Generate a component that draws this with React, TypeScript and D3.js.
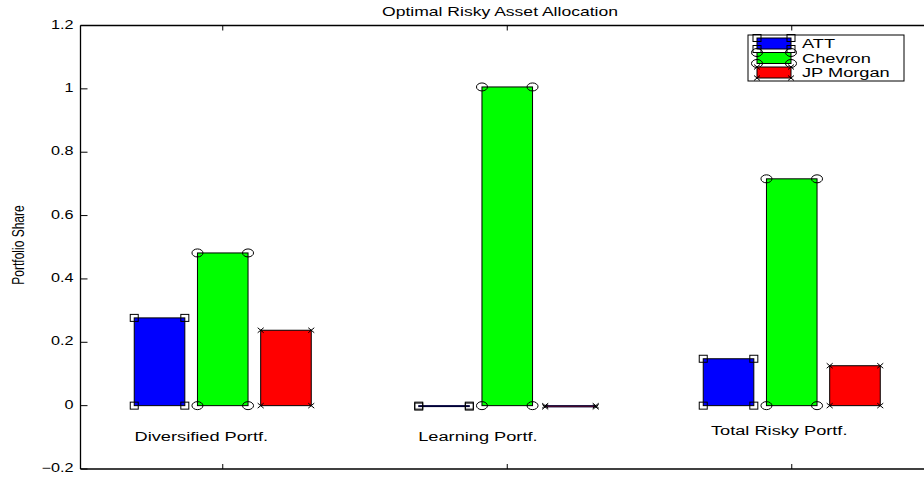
import * as d3 from 'd3';

// Portfolio groups and the three assets
const groups = ['Diversified Portf.', 'Learning Portf.', 'Total Risky Portf.'];
const assets = ['ATT', 'Chevron', 'JP Morgan'];

// Optimal weights per group
const attShare = [0.277, -0.003, 0.148];
const chevronShare = [0.482, 1.006, 0.716];
const jpmShare = [0.238, -0.004, 0.126];

// Group label anchors (data coords)
const labelX = [0.69, 1.687, 2.716];
const labelY = [-0.1, -0.1, -0.08];

const yTicks = [-0.2, 0, 0.2, 0.4, 0.6, 0.8, 1, 1.2];
const xTicks = [1, 2, 3];

const colors = ['#0000ff', '#00ff00', '#ff0000'];
const markers = ['square', 'circle', 'cross'];

const W = 924;
const H = 480;
const SX = 1.35; // the original figure is stretched sideways
const font = '"Liberation Sans", Arial, Helvetica, sans-serif';

function Marker({ kind, x, y }: { kind: string; x: number; y: number }) {
  if (kind === 'square') {
    return <rect x={x - 4} y={y - 3.5} width={8} height={7} fill="none" stroke="#000" strokeWidth={1} />;
  }
  if (kind === 'circle') {
    return <ellipse cx={x} cy={y} rx={5.5} ry={4} fill="none" stroke="#000" strokeWidth={1} />;
  }
  return (
    <path
      d={`M${x - 3},${y - 2.5}L${x + 3},${y + 2.5}M${x - 3},${y + 2.5}L${x + 3},${y - 2.5}`}
      stroke="#000"
      strokeWidth={1}
    />
  );
}

function Txt(props: { x: number; y: number; size: number; anchor?: string; baseline?: string; rotate?: number; children: string }) {
  const { x, y, size, anchor = 'start', baseline = 'auto', rotate = 0, children } = props;
  return (
    <text
      transform={`translate(${x},${y}) scale(${SX},1)${rotate ? ` rotate(${rotate})` : ''}`}
      fontFamily={font}
      fontSize={size}
      textAnchor={anchor}
      dominantBaseline={baseline}
      fill="#000"
    >
      {children}
    </text>
  );
}

export default function App() {
  const x = d3.scaleLinear().domain([0.5, 3.5]).range([80.5, 934]);
  const y = d3.scaleLinear().domain([-0.2, 1.2]).range([469, 25.5]);
  const fmt = d3.format('~g');

  const series = [attShare, chevronShare, jpmShare];
  const groupWidth = Math.min(0.8, 3 / (3 + 1.5));
  const barW = (groupWidth / 3) * 0.8;
  const offsets = [-groupWidth / 3, 0, groupWidth / 3];

  const left = x(0.5);
  const top = y(1.2);
  const bottom = y(-0.2);
  const right = x(3.5);

  // legend box
  const lg = { x0: 748, y0: 35, x1: 904, y1: 81 };
  const rows = [43.5, 58, 72.5];

  return (
    <svg
      width={W}
      height={H}
      style={{ position: 'absolute', left: 0, top: 0, background: '#fff', overflow: 'hidden' }}
    >
      {/* bars */}
      {series.map((vals, si) =>
        vals.map((v, gi) => {
          const cx = gi + 1 + offsets[si];
          const x0 = x(cx - barW / 2);
          const x1 = x(cx + barW / 2);
          const yv = y(v);
          const y0 = y(0);
          return (
            <g key={`${si}-${gi}`}>
              <rect
                x={x0}
                y={Math.min(yv, y0)}
                width={x1 - x0}
                height={Math.max(Math.abs(y0 - yv), 0.8)}
                fill={colors[si]}
                stroke={Math.abs(y0 - yv) < 3 ? '#000033' : '#000'}
                strokeWidth={1}
              />
              <Marker kind={markers[si]} x={x0} y={y0} />
              <Marker kind={markers[si]} x={x1} y={y0} />
              <Marker kind={markers[si]} x={x0} y={yv} />
              <Marker kind={markers[si]} x={x1} y={yv} />
            </g>
          );
        })
      )}

      {/* group labels */}
      {groups.map((g, i) => (
        <Txt key={g} x={x(labelX[i])} y={y(labelY[i])} size={13.5} baseline="middle">
          {g}
        </Txt>
      ))}

      {/* axes box */}
      <line x1={left} x2={left} y1={top} y2={bottom} stroke="#000" strokeWidth={1.3} />
      <line x1={left} x2={right} y1={top} y2={top} stroke="#000" strokeWidth={1.3} />
      <line x1={left} x2={right} y1={bottom} y2={bottom} stroke="#000" strokeWidth={1.3} />

      {/* y ticks */}
      {yTicks.map((t) => (
        <g key={t}>
          <line x1={left} x2={left + 7} y1={y(t)} y2={y(t)} stroke="#000" strokeWidth={1} />
          <Txt x={left - 7} y={y(t)} size={12} anchor="end" baseline="middle">
            {fmt(t)}
          </Txt>
        </g>
      ))}

      {/* x ticks (no labels) */}
      {xTicks.map((t) => (
        <g key={t}>
          <line x1={x(t)} x2={x(t)} y1={bottom} y2={bottom - 5} stroke="#000" strokeWidth={1} />
          <line x1={x(t)} x2={x(t)} y1={top} y2={top + 5} stroke="#000" strokeWidth={1} />
        </g>
      ))}

      {/* title & y label */}
      <Txt x={500} y={16} size={13} anchor="middle">
        Optimal Risky Asset Allocation
      </Txt>
      <Txt x={24} y={245} size={12} anchor="middle" rotate={-90}>
        Portfolio Share
      </Txt>

      {/* legend */}
      <rect x={lg.x0} y={lg.y0} width={lg.x1 - lg.x0} height={lg.y1 - lg.y0} fill="#fff" stroke="#000" strokeWidth={1} />
      {assets.map((a, i) => {
        const ry0 = rows[i] - 5.5;
        const ry1 = rows[i] + 5.5;
        return (
          <g key={a}>
            <rect x={757} y={ry0} width={34} height={ry1 - ry0} fill={colors[i]} stroke="#000" strokeWidth={1} />
            <Marker kind={markers[i]} x={757} y={ry0} />
            <Marker kind={markers[i]} x={791} y={ry0} />
            <Marker kind={markers[i]} x={757} y={ry1} />
            <Marker kind={markers[i]} x={791} y={ry1} />
            <Txt x={802} y={rows[i] + 1} size={13.5} baseline="middle">
              {a}
            </Txt>
          </g>
        );
      })}
    </svg>
  );
}
